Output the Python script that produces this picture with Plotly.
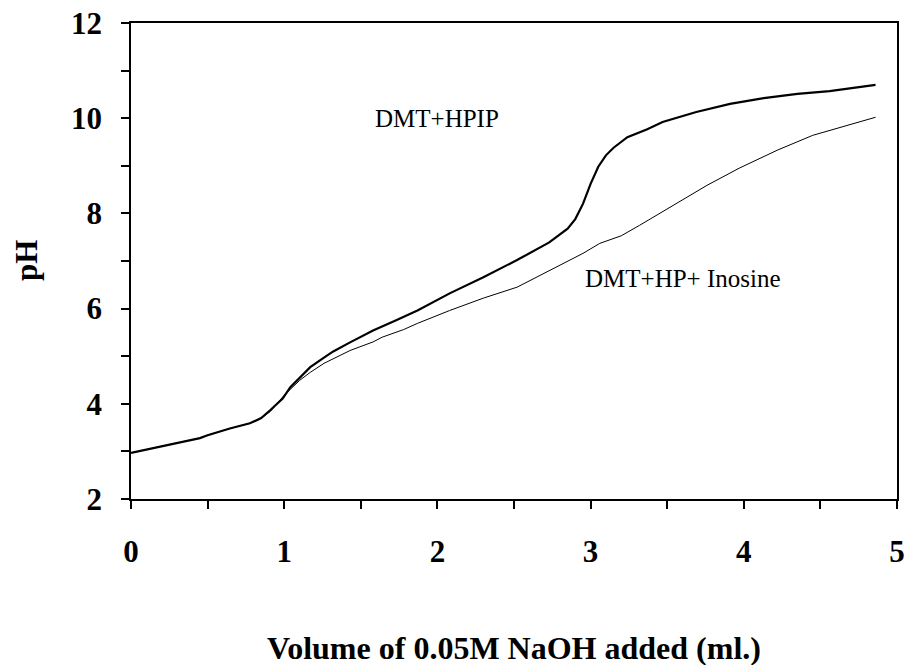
import plotly.graph_objects as go

# DMT+HPIP (thick curve)
vol_hpip = [0.0, 0.1, 0.27, 0.45, 0.5, 0.645, 0.776, 0.85, 0.91, 0.99, 1.04, 1.1, 1.17, 1.25, 1.32, 1.43, 1.58,
            1.72, 1.87, 2.08, 2.30, 2.52, 2.73, 2.85, 2.9, 2.95, 3.0, 3.05, 3.1, 3.15, 3.24, 3.37, 3.47,
            3.69, 3.91, 4.13, 4.35, 4.56, 4.70, 4.86]
ph_hpip = [2.97, 3.04, 3.15, 3.28, 3.34, 3.48, 3.59, 3.70, 3.87, 4.11, 4.35, 4.55, 4.77, 4.95, 5.10, 5.29, 5.54,
           5.74, 5.96, 6.32, 6.66, 7.02, 7.39, 7.68, 7.88, 8.20, 8.62, 8.98, 9.22, 9.38, 9.60, 9.77, 9.92,
           10.13, 10.30, 10.42, 10.51, 10.57, 10.63, 10.70]

# DMT+HP+ Inosine (thin curve)
vol_ino = [0.0, 0.1, 0.27, 0.45, 0.5, 0.645, 0.776, 0.85, 0.91, 1.0, 1.10, 1.17, 1.26, 1.36, 1.43, 1.58, 1.64,
           1.78, 1.87, 2.08, 2.30, 2.52, 2.73, 2.95, 3.06, 3.20, 3.32, 3.54, 3.76, 3.97, 4.22, 4.45, 4.67, 4.86]
ph_ino = [2.97, 3.04, 3.15, 3.28, 3.34, 3.48, 3.59, 3.70, 3.84, 4.18, 4.49, 4.66, 4.85, 5.00, 5.12, 5.30, 5.40,
          5.56, 5.69, 5.96, 6.22, 6.45, 6.79, 7.16, 7.37, 7.53, 7.75, 8.17, 8.59, 8.95, 9.33, 9.64, 9.85, 10.02]

x_ticks = [0, 1, 2, 3, 4, 5]
y_ticks = [2, 4, 6, 8, 10, 12]

label_hpip = "DMT+HPIP"
label_ino = "DMT+HP+ Inosine"

fig = go.Figure()
fig.add_trace(go.Scatter(x=vol_ino, y=ph_ino, mode="lines", line=dict(color="black", width=1), showlegend=False))
fig.add_trace(go.Scatter(x=vol_hpip, y=ph_hpip, mode="lines", line=dict(color="black", width=2.2), showlegend=False))

serif = "Liberation Serif, Times New Roman, serif"

fig.update_layout(
    width=907, height=665,
    margin=dict(l=131, r=10, t=23, b=166),
    plot_bgcolor="white", paper_bgcolor="white",
    font=dict(family=serif, color="black"),
    xaxis=dict(range=[0, 5], tickvals=x_ticks, ticktext=[str(v) for v in x_ticks],
               ticks="outside", ticklen=8, tickwidth=1.5, tickcolor="black",
               minor=dict(dtick=0.5, ticks="outside", ticklen=8, tickwidth=1.5, tickcolor="black"),
               showline=True, linecolor="black", linewidth=1.5, mirror=True,
               showgrid=False, zeroline=False, automargin=False,
               tickfont=dict(family=serif, size=31, color="black", weight="bold"),
               ticklabelstandoff=16),
    yaxis=dict(range=[2, 12], tickvals=y_ticks, ticktext=[str(v) for v in y_ticks],
               ticks="outside", ticklen=8, tickwidth=1.5, tickcolor="black",
               minor=dict(dtick=1, ticks="outside", ticklen=8, tickwidth=1.5, tickcolor="black"),
               showline=True, linecolor="black", linewidth=1.5, mirror=True,
               showgrid=False, zeroline=False, automargin=False,
               tickfont=dict(family=serif, size=31, color="black", weight="bold"),
               ticklabelstandoff=13),
)

fig.add_annotation(x=2.0, y=10.0, xref="x", yref="y", text=label_hpip, showarrow=False,
                   font=dict(family=serif, size=25, color="black"))
fig.add_annotation(x=3.6, y=6.64, xref="x", yref="y", text=label_ino, showarrow=False,
                   font=dict(family=serif, size=25, color="black"))
fig.add_annotation(x=0.5, y=-0.313, xref="paper", yref="paper", text="Volume of 0.05M NaOH added (ml.)",
                   showarrow=False, xanchor="center", yanchor="middle",
                   font=dict(family=serif, size=32, color="black", weight="bold"))
fig.add_annotation(x=-0.137, y=0.5, xref="paper", yref="paper", text="pH", textangle=-90,
                   showarrow=False, xanchor="center", yanchor="middle",
                   font=dict(family=serif, size=31, color="black", weight="bold"))

fig.write_html("out.html")
